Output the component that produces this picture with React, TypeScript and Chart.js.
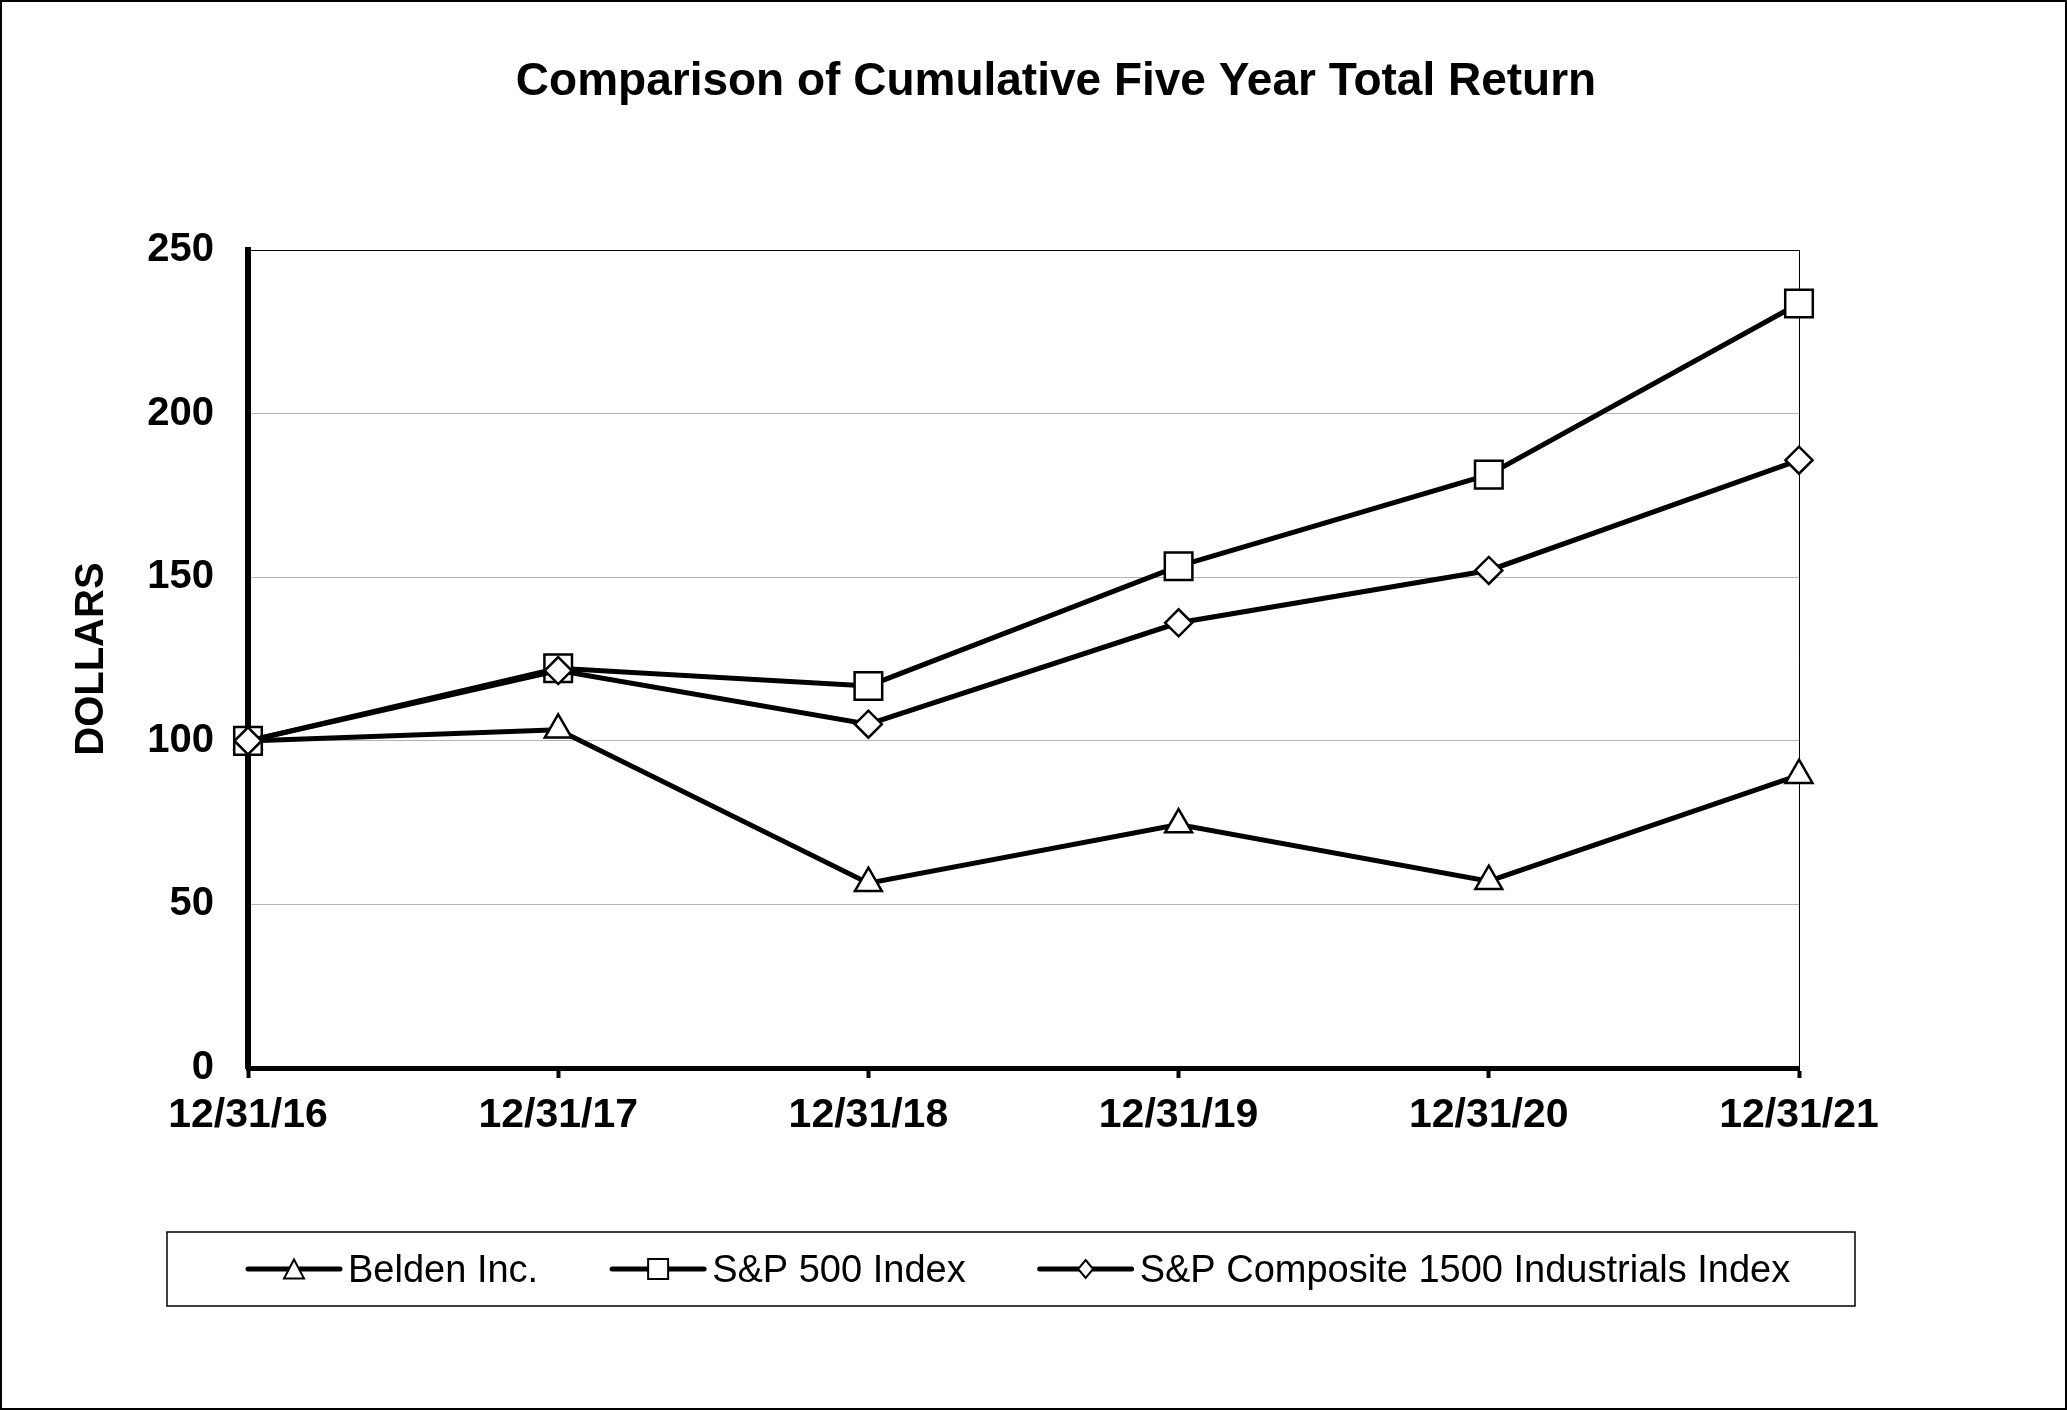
import React, { useEffect, useRef } from 'react';
import { Chart, registerables } from 'chart.js';

Chart.register(...registerables);

const FONT = "'Liberation Sans', Arial, Helvetica, sans-serif";

const categories = ['12/31/16', '12/31/17', '12/31/18', '12/31/19', '12/31/20', '12/31/21'];
const seriesNames = ['Belden Inc.', 'S&P 500 Index', 'S&P Composite 1500 Industrials Index'];
const beldenValues = [100, 103.4, 56.5, 74.4, 57.1, 89.5];
const sp500Values = [100, 122.2, 116.8, 153.4, 181.4, 233.7];
const industrialsValues = [100, 121.5, 105.1, 136.1, 152.1, 185.8];
const yTicks = [0, 50, 100, 150, 200, 250];

function drawMarker(ctx: CanvasRenderingContext2D, style: string, x: number, y: number) {
  ctx.save();
  ctx.fillStyle = '#fff';
  ctx.strokeStyle = '#000';
  ctx.lineWidth = 2;
  ctx.lineJoin = 'miter';
  ctx.beginPath();
  if (style === 'triangle') {
    ctx.moveTo(x, y - 9.5);
    ctx.lineTo(x + 10, y + 9.5);
    ctx.lineTo(x - 10, y + 9.5);
    ctx.closePath();
  } else if (style === 'rect') {
    ctx.rect(x - 10, y - 10, 20, 20);
  } else {
    ctx.moveTo(x, y - 9);
    ctx.lineTo(x + 7.5, y);
    ctx.lineTo(x, y + 9);
    ctx.lineTo(x - 7.5, y);
    ctx.closePath();
  }
  ctx.fill();
  ctx.stroke();
  ctx.restore();
}

const frameLegendPlugin = {
  id: 'frameLegend',
  afterDraw(chart: any) {
    const ctx: CanvasRenderingContext2D = chart.ctx;
    ctx.save();
    ctx.strokeStyle = '#000';
    ctx.lineWidth = 2;
    ctx.strokeRect(1, 1, chart.width - 2, chart.height - 2);
    ctx.lineWidth = 1.5;
    ctx.strokeRect(167, 1232, 1688, 74);
    const cy = 1269;
    let x = 248;
    ctx.font = `38px ${FONT}`;
    ctx.textBaseline = 'middle';
    ctx.textAlign = 'left';
    chart.data.datasets.forEach((ds: any) => {
      ctx.strokeStyle = '#000';
      ctx.lineWidth = 5;
      ctx.lineCap = 'round';
      ctx.beginPath();
      ctx.moveTo(x, cy);
      ctx.lineTo(x + 92, cy);
      ctx.stroke();
      drawMarker(ctx, ds.pointStyle, x + 46, cy);
      x += 100;
      ctx.fillStyle = '#000';
      ctx.fillText(ds.label, x, cy + 3);
      x += ctx.measureText(ds.label).width + 74;
    });
    ctx.restore();
  },
};

export default function App() {
  const ref = useRef<HTMLCanvasElement | null>(null);

  useEffect(() => {
    if (!ref.current) return;
    const last = categories.length - 1;
    const yMin = yTicks[0];
    const yMax = yTicks[yTicks.length - 1];
    const chart = new Chart(ref.current, {
      type: 'line',
      data: {
        labels: categories,
        datasets: [
          {
            label: seriesNames[0],
            data: beldenValues,
            pointStyle: 'triangle',
            pointRadius: 15.5,
            order: 2,
          },
          {
            label: seriesNames[1],
            data: sp500Values,
            pointStyle: 'rect',
            pointRadius: 19.5,
            order: 1,
          },
          {
            label: seriesNames[2],
            data: industrialsValues,
            pointStyle: 'rectRot',
            pointRadius: 13.5,
            order: 0,
          },
        ].map((d) => ({
          ...d,
          borderColor: '#000',
          borderWidth: 5,
          backgroundColor: '#fff',
          pointBackgroundColor: '#fff',
          pointBorderColor: '#000',
          pointBorderWidth: 2.5,
          pointHoverRadius: d.pointRadius,
          tension: 0,
          fill: false,
          clip: false as any,
        })) as any,
      },
      options: {
        animation: false,
        responsive: false,
        events: [],
        layout: { padding: { left: 46, right: 1, top: 0, bottom: 242 } },
        plugins: {
          legend: { display: false },
          tooltip: { enabled: false },
          title: {
            display: true,
            text: 'Comparison of Cumulative Five Year Total Return',
            color: '#000',
            font: { family: FONT, size: 46, weight: 'bold' },
            padding: { top: 55, bottom: 140 },
          },
        },
        scales: {
          x: {
            type: 'category',
            offset: false,
            afterFit: (s: any) => {
              s.height = 100;
            },
            border: { display: true, color: '#000', width: 5 },
            grid: {
              display: true,
              drawOnChartArea: true,
              drawTicks: true,
              tickLength: 10,
              tickWidth: 4,
              tickColor: '#000',
              lineWidth: 1,
              color: (c: any) => (c.index === last ? '#000' : 'rgba(0,0,0,0)'),
            },
            ticks: {
              color: '#000',
              font: { family: FONT, size: 41, weight: 'bold' },
              padding: 13,
              maxRotation: 0,
              autoSkip: false,
            },
          },
          y: {
            min: yMin,
            max: yMax,
            afterFit: (s: any) => {
              s.width = 202;
            },
            border: { display: true, color: '#000', width: 6 },
            grid: {
              drawTicks: false,
              lineWidth: 1,
              color: (c: any) =>
                c.tick && c.tick.value === yMax ? '#000' : c.tick && c.tick.value === yMin ? 'rgba(0,0,0,0)' : '#b4b4b4',
            },
            ticks: {
              stepSize: yTicks[1] - yTicks[0],
              color: '#000',
              font: { family: FONT, size: 40, weight: 'bold' },
              padding: 34,
            },
            title: {
              display: true,
              text: 'DOLLARS',
              color: '#000',
              font: { family: FONT, size: 40, weight: 'bold' },
              padding: { top: 22, bottom: 0 },
            },
          },
          yRightSpace: {
            type: 'linear',
            position: 'right',
            display: true,
            afterFit: (s: any) => {
              s.width = 267;
            },
            border: { display: false },
            grid: { display: false, drawTicks: false },
            ticks: { display: false },
          },
        },
      },
      plugins: [frameLegendPlugin],
    });
    return () => chart.destroy();
  }, []);

  return (
    <div style={{ position: 'fixed', left: 0, top: 0, width: 2067, height: 1410, background: '#fff' }}>
      <canvas ref={ref} width={2067} height={1410} style={{ display: 'block', width: 2067, height: 1410 }} />
    </div>
  );
}
